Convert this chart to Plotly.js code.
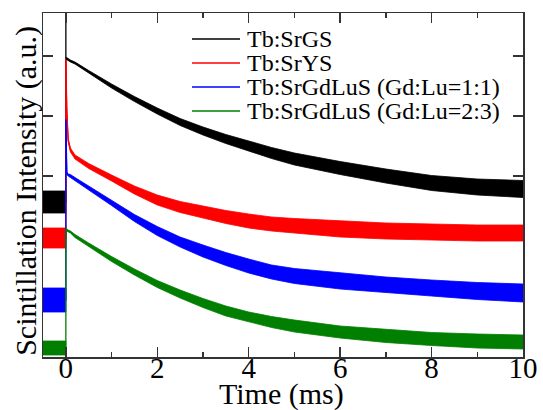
<!DOCTYPE html>
<html>
<head>
<meta charset="utf-8">
<script src="https://cdn.plot.ly/plotly-3.0.1.min.js"></script>
<style>html,body{margin:0;padding:0;background:#fff;}#chart{width:543px;height:410px;}</style>
</head>
<body>
<div id="chart"></div>
<script>
// Series names and colours
const seriesNames = ["Tb:SrGS", "Tb:SrYS", "Tb:SrGdLuS (Gd:Lu=1:1)", "Tb:SrGdLuS (Gd:Lu=2:3)"];
const seriesColors = ["#000000", "#ff0000", "#0000ff", "#007f00"];

// Time axis (ms)
const preTime = [-0.5, 0];
const decayTime = [0, 0.02, 0.05, 0.1, 0.2, 0.5, 1, 1.5, 2, 2.5, 3, 3.5, 4, 4.5, 5, 6, 7, 8, 9, 10];
const xTickVals = [0, 2, 4, 6, 8, 10];
const xTickText = ['0', '2', '4', '6', '8', '10'];

// Pre-trigger background level and its noise half-width (a.u.)
const baseBlack = 155, baseBlackNoise = 11;
const baseRed = 119, baseRedNoise = 10;
const baseBlue = 57, baseBlueNoise = 12;
const baseGreen = 9, baseGreenNoise = 7;

// Excitation spike top at t = 0 (a.u.)
const peakBlack = 360, peakRed = 297, peakBlue = 237, peakGreen = 128;

// Decay curves (a.u.) at decayTime
const decayBlack = [299, 298, 297.5, 296, 294, 285, 271, 258, 246, 235, 226, 218, 211, 204, 198, 189, 181, 174, 170, 168];
const decayRed   = [297, 247, 217, 207, 200, 191, 179, 167, 157, 150, 145, 140, 136, 133, 131, 128, 126, 125, 124, 124];
const decayBlue  = [237, 184, 182, 181, 178, 169, 154, 139, 126, 115, 106, 98, 91, 85, 81, 76, 72, 69, 66, 64];
const decayGreen = [128, 127, 126, 125, 121, 112, 98, 85, 73, 63, 54, 46, 40, 35, 31, 25, 21, 18, 16, 15];

// Noise half-width of each decay curve (a.u.)
const noiseBlack = [1, 1, 1, 1, 1, 1.5, 2, 2.5, 3, 3.5, 4, 4.5, 5, 5.5, 6, 6.5, 7, 7.5, 8, 8.5];
const noiseRed   = [1, 1, 1.5, 2, 2, 2.5, 3, 4, 5, 5.5, 6, 6.5, 7, 7, 7.5, 8, 8, 8, 8, 8];
const noiseBlue  = [1, 1, 1, 1.5, 1.5, 2, 2.5, 3.5, 4.5, 5, 6, 6.5, 7, 7, 7.5, 8, 8, 8, 8.5, 9];
const noiseGreen = [1, 1, 1, 1, 1.5, 2, 2.5, 3, 3.5, 4, 4.5, 5, 5, 5.5, 6, 6, 6.5, 6.5, 7, 7];

const series = [
  {base: baseBlack, baseNoise: baseBlackNoise, peak: peakBlack, decay: decayBlack, noise: noiseBlack},
  {base: baseRed, baseNoise: baseRedNoise, peak: peakRed, decay: decayRed, noise: noiseRed},
  {base: baseBlue, baseNoise: baseBlueNoise, peak: peakBlue, decay: decayBlue, noise: noiseBlue},
  {base: baseGreen, baseNoise: baseGreenNoise, peak: peakGreen, decay: decayGreen, noise: noiseGreen}
];

// Legend rows (a.u. positions of legend entries)
const legendRows = [318, 294, 270, 246];
const legendLineX = [2.76, 3.81];
const legendTextX = 3.92;

const serif = "'Times New Roman', 'Liberation Serif', serif";

const traces = [];
series.forEach((s, i) => {
  const col = seriesColors[i];
  const bx = [], by = [];
  preTime.forEach(t => { bx.push(t); by.push(s.base + s.baseNoise); });
  preTime.slice().reverse().forEach(t => { bx.push(t); by.push(s.base - s.baseNoise); });
  bx.push(null); by.push(null);
  decayTime.forEach((t, k) => { bx.push(t); by.push(s.decay[k] + s.noise[k]); });
  for (let k = decayTime.length - 1; k >= 0; k--) { bx.push(decayTime[k]); by.push(s.decay[k] - s.noise[k]); }
  traces.push({x: bx, y: by, mode: 'lines', fill: 'toself', fillcolor: col,
    line: {color: col, width: 0.8}, hoverinfo: 'skip', showlegend: false, connectgaps: false});
  const cx = preTime.slice(), cy = preTime.map(() => s.base);
  cx.push(0); cy.push(s.peak);
  decayTime.forEach((t, k) => { cx.push(t); cy.push(s.decay[k]); });
  traces.push({x: cx, y: cy, mode: 'lines', name: seriesNames[i],
    line: {color: col, width: 1.3}, showlegend: false});
});

const shapes = [], annotations = [];
seriesNames.forEach((n, i) => {
  shapes.push({type: 'line', xref: 'x', yref: 'y', x0: legendLineX[0], x1: legendLineX[1],
    y0: legendRows[i], y1: legendRows[i], line: {color: seriesColors[i], width: 1.3}});
  annotations.push({xref: 'x', yref: 'y', x: legendTextX, y: legendRows[i], text: n,
    showarrow: false, xanchor: 'left', yanchor: 'middle',
    font: {family: serif, size: 24, color: '#000'}});
});
annotations.push({xref: 'paper', yref: 'paper', x: -0.034, y: 0.482, textangle: -90,
  text: 'Scintillation Intensity (a.u.)', showarrow: false, xanchor: 'center', yanchor: 'middle',
  font: {family: serif, size: 30, color: '#000'}});
annotations.push({xref: 'paper', yref: 'paper', x: 0.497, y: -0.107,
  text: 'Time (ms)', showarrow: false, xanchor: 'center', yanchor: 'middle', borderpad: 0,
  font: {family: serif, size: 30, color: '#000'}});

const layout = {
  width: 543, height: 410,
  margin: {l: 43, r: 20, t: 13, b: 53},
  paper_bgcolor: '#fff', plot_bgcolor: '#fff',
  showlegend: false,
  font: {family: serif, color: '#000'},
  xaxis: {
    range: [-0.5, 10], tickvals: xTickVals, ticktext: xTickText,
    ticks: 'inside', ticklen: 10, tickwidth: 1.3, tickcolor: '#333',
    minor: {tickvals: [1, 3, 5, 7, 9], ticks: 'inside', ticklen: 5, tickwidth: 1.3, tickcolor: '#333'},
    showline: true, linecolor: '#333', linewidth: 1.5, mirror: 'ticks',
    showgrid: false, zeroline: false,
    ticklabelstandoff: -15,
    tickfont: {family: serif, size: 29, color: '#000'}
  },
  yaxis: {
    range: [0, 344], tickvals: [181, 241, 301], showticklabels: false,
    ticks: 'inside', ticklen: 10, tickwidth: 1.3, tickcolor: '#333',
    showline: true, linecolor: '#333', linewidth: 1.5, mirror: 'ticks',
    showgrid: false, zeroline: false
  },
  shapes: shapes,
  annotations: annotations
};

Plotly.newPlot('chart', traces, layout, {displayModeBar: false, staticPlot: true});
</script>
</body>
</html>
